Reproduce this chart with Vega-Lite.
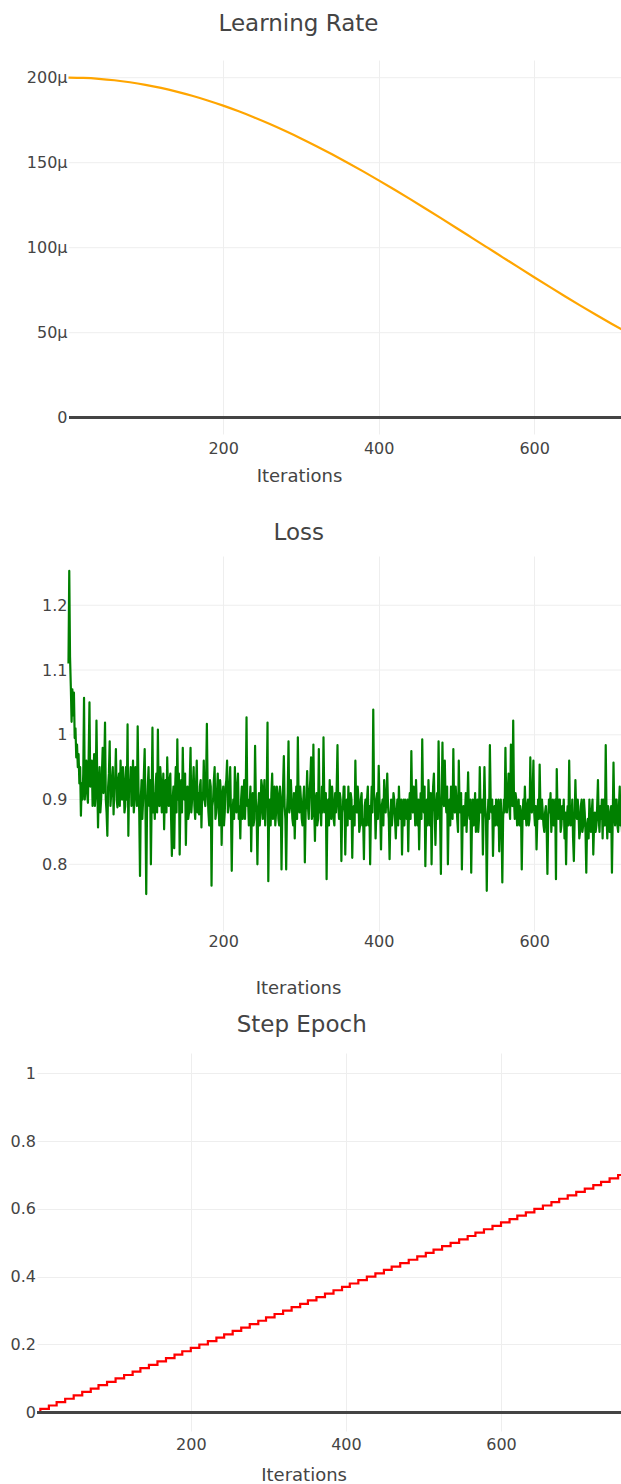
{
  "$schema": "https://vega.github.io/schema/vega-lite/v6.json",
  "background": "white",
  "autosize": {"type": "pad"},
  "padding": {"left": 10, "top": 12, "right": 0, "bottom": 0},
  "spacing": 122,
  "bounds": "flush",
  "config": {
    "view": {"stroke": null},
    "font": "DejaVu Sans",
    "axis": {
      "labelFont": "DejaVu Sans", "labelFontSize": 16, "labelColor": "#444",
      "titleFont": "DejaVu Sans", "titleFontSize": 18, "titleColor": "#444", "titleFontWeight": "normal",
      "domain": false, "ticks": false, "tickSize": 0, "gridColor": "#eeeeee", "gridWidth": 1, "labelOverlap": false
    },
    "title": {"font": "DejaVu Sans", "fontSize": 23, "fontWeight": "normal", "color": "#444", "anchor": "middle", "frame": "group", "baseline": "alphabetic"}
  },
  "datasets": {
    "lr": [
      {"iter": 1, "lr": 0.0002}, {"iter": 20, "lr": 0.00019983}, {"iter": 40, "lr": 0.00019932}, {"iter": 60, "lr": 0.00019848},
      {"iter": 80, "lr": 0.0001973}, {"iter": 100, "lr": 0.0001958}, {"iter": 120, "lr": 0.00019397}, {"iter": 140, "lr": 0.00019182},
      {"iter": 160, "lr": 0.00018936}, {"iter": 180, "lr": 0.0001866}, {"iter": 200, "lr": 0.00018355}, {"iter": 220, "lr": 0.00018021},
      {"iter": 240, "lr": 0.0001766}, {"iter": 260, "lr": 0.00017274}, {"iter": 280, "lr": 0.00016862}, {"iter": 300, "lr": 0.00016428},
      {"iter": 320, "lr": 0.00015972}, {"iter": 340, "lr": 0.00015495}, {"iter": 360, "lr": 0.00015}, {"iter": 380, "lr": 0.00014488},
      {"iter": 400, "lr": 0.00013961}, {"iter": 420, "lr": 0.0001342}, {"iter": 440, "lr": 0.00012868}, {"iter": 460, "lr": 0.00012306},
      {"iter": 480, "lr": 0.00011736}, {"iter": 500, "lr": 0.00011161}, {"iter": 520, "lr": 0.00010581}, {"iter": 540, "lr": 0.0001},
      {"iter": 560, "lr": 0.00009419}, {"iter": 580, "lr": 0.00008839}, {"iter": 600, "lr": 0.00008264}, {"iter": 620, "lr": 0.00007694},
      {"iter": 640, "lr": 0.00007132}, {"iter": 660, "lr": 0.0000658}, {"iter": 680, "lr": 0.00006039}, {"iter": 700, "lr": 0.00005512},
      {"iter": 720, "lr": 0.00005}
    ],
    "loss": [
      {"iter":1,"loss":1.11},{"iter":2,"loss":1.253},{"iter":3,"loss":1.12},{"iter":4,"loss":1.075},{"iter":5,"loss":1.02},
      {"iter":6,"loss":1.07},{"iter":7,"loss":1.03},{"iter":8,"loss":1.065},{"iter":9,"loss":0.995},{"iter":10,"loss":1.01},
      {"iter":11,"loss":0.965},{"iter":12,"loss":0.985},{"iter":13,"loss":0.95},{"iter":14,"loss":0.97},{"iter":15,"loss":0.925},
      {"iter":16,"loss":0.95},{"iter":17,"loss":0.875},{"iter":18,"loss":0.925},{"iter":19,"loss":0.9},{"iter":20,"loss":0.94},
      {"iter":21,"loss":1.057},{"iter":22,"loss":0.9},{"iter":23,"loss":0.94},{"iter":24,"loss":0.96},{"iter":25,"loss":0.91},
      {"iter":26,"loss":0.895},{"iter":27,"loss":0.97},{"iter":28,"loss":1.05},{"iter":29,"loss":0.92},{"iter":30,"loss":0.93},
      {"iter":31,"loss":0.96},{"iter":32,"loss":0.89},{"iter":33,"loss":0.93},{"iter":34,"loss":0.97},{"iter":35,"loss":0.89},
      {"iter":36,"loss":0.91},{"iter":37,"loss":1.022},{"iter":38,"loss":0.93},{"iter":39,"loss":0.857},{"iter":40,"loss":0.92},
      {"iter":41,"loss":0.95},{"iter":42,"loss":0.88},{"iter":43,"loss":0.9},{"iter":44,"loss":0.94},{"iter":45,"loss":0.98},
      {"iter":46,"loss":0.91},{"iter":47,"loss":0.95},{"iter":48,"loss":1.019},{"iter":49,"loss":0.9},{"iter":50,"loss":0.88},
      {"iter":51,"loss":0.844},{"iter":52,"loss":0.92},{"iter":53,"loss":0.94},{"iter":54,"loss":0.99},{"iter":55,"loss":0.89},
      {"iter":56,"loss":0.91},{"iter":57,"loss":0.93},{"iter":58,"loss":0.95},{"iter":59,"loss":0.877},{"iter":60,"loss":0.92},
      {"iter":61,"loss":0.93},{"iter":62,"loss":0.978},{"iter":63,"loss":0.9},{"iter":64,"loss":0.888},{"iter":65,"loss":0.93},
      {"iter":66,"loss":0.94},{"iter":67,"loss":0.89},{"iter":68,"loss":0.96},{"iter":69,"loss":0.91},{"iter":70,"loss":0.9},
      {"iter":71,"loss":0.95},{"iter":72,"loss":0.93},{"iter":73,"loss":0.88},{"iter":74,"loss":0.89},{"iter":75,"loss":0.95},
      {"iter":76,"loss":0.9},{"iter":77,"loss":1.016},{"iter":78,"loss":0.844},{"iter":79,"loss":0.93},{"iter":80,"loss":0.92},
      {"iter":81,"loss":0.95},{"iter":82,"loss":0.89},{"iter":83,"loss":0.91},{"iter":84,"loss":0.96},{"iter":85,"loss":0.88},
      {"iter":86,"loss":0.9},{"iter":87,"loss":0.95},{"iter":88,"loss":0.94},{"iter":89,"loss":0.89},{"iter":90,"loss":1.013},
      {"iter":91,"loss":0.92},{"iter":92,"loss":0.88},{"iter":93,"loss":0.782},{"iter":94,"loss":0.9},{"iter":95,"loss":0.93},
      {"iter":96,"loss":0.87},{"iter":97,"loss":0.9},{"iter":98,"loss":0.94},{"iter":99,"loss":0.978},{"iter":100,"loss":0.89},
      {"iter":101,"loss":0.754},{"iter":102,"loss":0.88},{"iter":103,"loss":0.92},{"iter":104,"loss":0.95},{"iter":105,"loss":0.89},
      {"iter":106,"loss":0.93},{"iter":107,"loss":0.8},{"iter":108,"loss":0.9},{"iter":109,"loss":1.011},{"iter":110,"loss":0.88},
      {"iter":111,"loss":0.91},{"iter":112,"loss":0.87},{"iter":113,"loss":0.92},{"iter":114,"loss":0.94},{"iter":115,"loss":0.88},
      {"iter":116,"loss":1.008},{"iter":117,"loss":0.9},{"iter":118,"loss":0.89},{"iter":119,"loss":0.95},{"iter":120,"loss":0.93},
      {"iter":121,"loss":0.88},{"iter":122,"loss":0.9},{"iter":123,"loss":0.94},{"iter":124,"loss":0.854},{"iter":125,"loss":0.91},
      {"iter":126,"loss":0.93},{"iter":127,"loss":0.88},{"iter":128,"loss":0.965},{"iter":129,"loss":0.91},{"iter":130,"loss":0.89},
      {"iter":131,"loss":0.93},{"iter":132,"loss":0.94},{"iter":133,"loss":0.87},{"iter":134,"loss":0.813},{"iter":135,"loss":0.9},
      {"iter":136,"loss":0.92},{"iter":137,"loss":0.825},{"iter":138,"loss":0.91},{"iter":139,"loss":0.95},{"iter":140,"loss":0.88},
      {"iter":141,"loss":0.993},{"iter":142,"loss":0.9},{"iter":143,"loss":0.94},{"iter":144,"loss":0.815},{"iter":145,"loss":0.9},
      {"iter":146,"loss":0.93},{"iter":147,"loss":0.88},{"iter":148,"loss":0.98},{"iter":149,"loss":0.91},{"iter":150,"loss":0.9},
      {"iter":151,"loss":0.94},{"iter":152,"loss":0.83},{"iter":153,"loss":0.9},{"iter":154,"loss":0.92},{"iter":155,"loss":0.87},
      {"iter":156,"loss":0.88},{"iter":157,"loss":0.93},{"iter":158,"loss":0.98},{"iter":159,"loss":0.88},{"iter":160,"loss":0.9},
      {"iter":161,"loss":0.92},{"iter":162,"loss":0.95},{"iter":163,"loss":0.89},{"iter":164,"loss":0.87},{"iter":165,"loss":0.92},
      {"iter":166,"loss":0.96},{"iter":167,"loss":0.88},{"iter":168,"loss":0.91},{"iter":169,"loss":0.877},{"iter":170,"loss":0.92},
      {"iter":171,"loss":0.93},{"iter":172,"loss":0.857},{"iter":173,"loss":0.91},{"iter":174,"loss":0.9},{"iter":175,"loss":0.96},
      {"iter":176,"loss":0.9},{"iter":177,"loss":0.89},{"iter":178,"loss":0.93},{"iter":179,"loss":1.017},{"iter":180,"loss":0.91},
      {"iter":181,"loss":0.88},{"iter":182,"loss":0.86},{"iter":183,"loss":0.93},{"iter":184,"loss":0.92},{"iter":185,"loss":0.767},
      {"iter":186,"loss":0.89},{"iter":187,"loss":0.9},{"iter":188,"loss":0.93},{"iter":189,"loss":0.95},{"iter":190,"loss":0.87},
      {"iter":191,"loss":0.88},{"iter":192,"loss":0.91},{"iter":193,"loss":0.94},{"iter":194,"loss":0.89},{"iter":195,"loss":0.86},
      {"iter":196,"loss":0.93},{"iter":197,"loss":0.91},{"iter":198,"loss":0.83},{"iter":199,"loss":0.9},{"iter":200,"loss":0.92},
      {"iter":201,"loss":0.86},{"iter":202,"loss":0.88},{"iter":203,"loss":0.92},{"iter":204,"loss":0.93},{"iter":205,"loss":0.96},
      {"iter":206,"loss":0.88},{"iter":207,"loss":0.89},{"iter":208,"loss":0.92},{"iter":209,"loss":0.95},{"iter":210,"loss":0.88},
      {"iter":211,"loss":0.79},{"iter":212,"loss":0.88},{"iter":213,"loss":0.9},{"iter":214,"loss":0.87},{"iter":215,"loss":0.95},
      {"iter":216,"loss":0.9},{"iter":217,"loss":0.88},{"iter":218,"loss":0.92},{"iter":219,"loss":0.94},{"iter":220,"loss":0.87},
      {"iter":221,"loss":0.89},{"iter":222,"loss":0.84},{"iter":223,"loss":0.9},{"iter":224,"loss":0.92},{"iter":225,"loss":0.87},
      {"iter":226,"loss":0.9},{"iter":227,"loss":0.93},{"iter":228,"loss":0.87},{"iter":229,"loss":0.91},{"iter":230,"loss":1.027},
      {"iter":231,"loss":0.89},{"iter":232,"loss":0.9},{"iter":233,"loss":0.86},{"iter":234,"loss":0.89},{"iter":235,"loss":0.92},
      {"iter":236,"loss":0.82},{"iter":237,"loss":0.89},{"iter":238,"loss":0.91},{"iter":239,"loss":0.86},{"iter":240,"loss":0.87},
      {"iter":241,"loss":0.983},{"iter":242,"loss":0.9},{"iter":243,"loss":0.88},{"iter":244,"loss":0.8},{"iter":245,"loss":0.88},
      {"iter":246,"loss":0.91},{"iter":247,"loss":0.86},{"iter":248,"loss":0.88},{"iter":249,"loss":0.93},{"iter":250,"loss":0.92},
      {"iter":251,"loss":0.87},{"iter":252,"loss":0.9},{"iter":253,"loss":0.93},{"iter":254,"loss":0.86},{"iter":255,"loss":0.9},
      {"iter":256,"loss":0.91},{"iter":257,"loss":1.019},{"iter":258,"loss":0.774},{"iter":259,"loss":0.88},{"iter":260,"loss":0.9},
      {"iter":261,"loss":0.86},{"iter":262,"loss":0.91},{"iter":263,"loss":0.94},{"iter":264,"loss":0.87},{"iter":265,"loss":0.9},
      {"iter":266,"loss":0.92},{"iter":267,"loss":0.86},{"iter":268,"loss":0.88},{"iter":269,"loss":0.92},{"iter":270,"loss":0.91},
      {"iter":271,"loss":0.87},{"iter":272,"loss":0.86},{"iter":273,"loss":0.92},{"iter":274,"loss":0.9},{"iter":275,"loss":0.792},
      {"iter":276,"loss":0.88},{"iter":277,"loss":0.92},{"iter":278,"loss":0.967},{"iter":279,"loss":0.89},{"iter":280,"loss":0.87},
      {"iter":281,"loss":0.792},{"iter":282,"loss":0.88},{"iter":283,"loss":0.91},{"iter":284,"loss":0.99},{"iter":285,"loss":0.88},
      {"iter":286,"loss":0.89},{"iter":287,"loss":0.93},{"iter":288,"loss":0.9},{"iter":289,"loss":0.87},{"iter":290,"loss":0.86},
      {"iter":291,"loss":0.91},{"iter":292,"loss":0.84},{"iter":293,"loss":0.89},{"iter":294,"loss":0.92},{"iter":295,"loss":0.87},
      {"iter":296,"loss":0.996},{"iter":297,"loss":0.9},{"iter":298,"loss":0.88},{"iter":299,"loss":0.92},{"iter":300,"loss":0.9},
      {"iter":301,"loss":0.87},{"iter":302,"loss":0.86},{"iter":303,"loss":0.9},{"iter":304,"loss":0.92},{"iter":305,"loss":0.803},
      {"iter":306,"loss":0.88},{"iter":307,"loss":0.9},{"iter":308,"loss":0.944},{"iter":309,"loss":0.89},{"iter":310,"loss":0.87},
      {"iter":311,"loss":0.91},{"iter":312,"loss":0.93},{"iter":313,"loss":0.965},{"iter":314,"loss":0.87},{"iter":315,"loss":0.88},
      {"iter":316,"loss":0.985},{"iter":317,"loss":0.89},{"iter":318,"loss":0.836},{"iter":319,"loss":0.9},{"iter":320,"loss":0.91},
      {"iter":321,"loss":0.86},{"iter":322,"loss":0.87},{"iter":323,"loss":0.978},{"iter":324,"loss":0.88},{"iter":325,"loss":0.89},
      {"iter":326,"loss":0.86},{"iter":327,"loss":0.92},{"iter":328,"loss":0.88},{"iter":329,"loss":0.996},{"iter":330,"loss":0.9},
      {"iter":331,"loss":0.88},{"iter":332,"loss":0.91},{"iter":333,"loss":0.777},{"iter":334,"loss":0.88},{"iter":335,"loss":0.9},
      {"iter":336,"loss":0.86},{"iter":337,"loss":0.93},{"iter":338,"loss":0.89},{"iter":339,"loss":0.87},{"iter":340,"loss":0.92},
      {"iter":341,"loss":0.9},{"iter":342,"loss":0.87},{"iter":343,"loss":0.86},{"iter":344,"loss":0.91},{"iter":345,"loss":0.88},
      {"iter":346,"loss":0.92},{"iter":347,"loss":0.984},{"iter":348,"loss":0.89},{"iter":349,"loss":0.87},{"iter":350,"loss":0.91},
      {"iter":351,"loss":0.9},{"iter":352,"loss":0.805},{"iter":353,"loss":0.88},{"iter":354,"loss":0.89},{"iter":355,"loss":0.92},
      {"iter":356,"loss":0.92},{"iter":357,"loss":0.815},{"iter":358,"loss":0.88},{"iter":359,"loss":0.9},{"iter":360,"loss":0.86},
      {"iter":361,"loss":0.92},{"iter":362,"loss":0.88},{"iter":363,"loss":0.87},{"iter":364,"loss":0.91},{"iter":365,"loss":0.9},
      {"iter":366,"loss":0.81},{"iter":367,"loss":0.88},{"iter":368,"loss":0.89},{"iter":369,"loss":0.86},{"iter":370,"loss":0.96},
      {"iter":371,"loss":0.89},{"iter":372,"loss":0.88},{"iter":373,"loss":0.92},{"iter":374,"loss":0.9},{"iter":375,"loss":0.85},
      {"iter":376,"loss":0.86},{"iter":377,"loss":0.9},{"iter":378,"loss":0.91},{"iter":379,"loss":0.86},{"iter":380,"loss":0.87},
      {"iter":381,"loss":0.808},{"iter":382,"loss":0.89},{"iter":383,"loss":0.9},{"iter":384,"loss":0.86},{"iter":385,"loss":0.9},
      {"iter":386,"loss":0.92},{"iter":387,"loss":0.86},{"iter":388,"loss":0.89},{"iter":389,"loss":0.8},{"iter":390,"loss":0.88},
      {"iter":391,"loss":0.92},{"iter":392,"loss":0.88},{"iter":393,"loss":1.039},{"iter":394,"loss":0.91},{"iter":395,"loss":0.9},
      {"iter":396,"loss":0.84},{"iter":397,"loss":0.88},{"iter":398,"loss":0.91},{"iter":399,"loss":0.87},{"iter":400,"loss":0.952},
      {"iter":401,"loss":0.9},{"iter":402,"loss":0.88},{"iter":403,"loss":0.823},{"iter":404,"loss":0.89},{"iter":405,"loss":0.9},
      {"iter":406,"loss":0.86},{"iter":407,"loss":0.93},{"iter":408,"loss":0.89},{"iter":409,"loss":0.88},{"iter":410,"loss":0.91},
      {"iter":411,"loss":0.94},{"iter":412,"loss":0.89},{"iter":413,"loss":0.87},{"iter":414,"loss":0.808},{"iter":415,"loss":0.87},
      {"iter":416,"loss":0.9},{"iter":417,"loss":0.86},{"iter":418,"loss":0.88},{"iter":419,"loss":0.91},{"iter":420,"loss":0.9},
      {"iter":421,"loss":0.87},{"iter":422,"loss":0.84},{"iter":423,"loss":0.88},{"iter":424,"loss":0.9},{"iter":425,"loss":0.86},
      {"iter":426,"loss":0.92},{"iter":427,"loss":0.88},{"iter":428,"loss":0.87},{"iter":429,"loss":0.9},{"iter":430,"loss":0.815},
      {"iter":431,"loss":0.88},{"iter":432,"loss":0.9},{"iter":433,"loss":0.86},{"iter":434,"loss":0.9},{"iter":435,"loss":0.88},
      {"iter":436,"loss":0.87},{"iter":437,"loss":0.9},{"iter":438,"loss":0.82},{"iter":439,"loss":0.89},{"iter":440,"loss":0.91},
      {"iter":441,"loss":0.87},{"iter":442,"loss":0.975},{"iter":443,"loss":0.89},{"iter":444,"loss":0.88},{"iter":445,"loss":0.92},
      {"iter":446,"loss":0.9},{"iter":447,"loss":0.86},{"iter":448,"loss":0.93},{"iter":449,"loss":0.89},{"iter":450,"loss":0.86},
      {"iter":451,"loss":0.9},{"iter":452,"loss":0.823},{"iter":453,"loss":0.88},{"iter":454,"loss":0.91},{"iter":455,"loss":0.87},
      {"iter":456,"loss":0.993},{"iter":457,"loss":0.9},{"iter":458,"loss":0.88},{"iter":459,"loss":0.92},{"iter":460,"loss":0.797},
      {"iter":461,"loss":0.87},{"iter":462,"loss":0.9},{"iter":463,"loss":0.86},{"iter":464,"loss":0.93},{"iter":465,"loss":0.89},
      {"iter":466,"loss":0.86},{"iter":467,"loss":0.91},{"iter":468,"loss":0.8},{"iter":469,"loss":0.88},{"iter":470,"loss":0.92},
      {"iter":471,"loss":0.94},{"iter":472,"loss":0.88},{"iter":473,"loss":0.83},{"iter":474,"loss":0.89},{"iter":475,"loss":0.91},
      {"iter":476,"loss":0.87},{"iter":477,"loss":0.99},{"iter":478,"loss":0.91},{"iter":479,"loss":0.87},{"iter":480,"loss":0.785},
      {"iter":481,"loss":0.9},{"iter":482,"loss":0.988},{"iter":483,"loss":0.9},{"iter":484,"loss":0.89},{"iter":485,"loss":0.96},
      {"iter":486,"loss":0.9},{"iter":487,"loss":0.88},{"iter":488,"loss":0.92},{"iter":489,"loss":0.8},{"iter":490,"loss":0.88},
      {"iter":491,"loss":0.9},{"iter":492,"loss":0.86},{"iter":493,"loss":0.92},{"iter":494,"loss":0.89},{"iter":495,"loss":0.87},
      {"iter":496,"loss":0.978},{"iter":497,"loss":0.89},{"iter":498,"loss":0.88},{"iter":499,"loss":0.92},{"iter":500,"loss":0.9},
      {"iter":501,"loss":0.87},{"iter":502,"loss":0.85},{"iter":503,"loss":0.96},{"iter":504,"loss":0.89},{"iter":505,"loss":0.88},
      {"iter":506,"loss":0.91},{"iter":507,"loss":0.792},{"iter":508,"loss":0.87},{"iter":509,"loss":0.89},{"iter":510,"loss":0.86},
      {"iter":511,"loss":0.88},{"iter":512,"loss":0.91},{"iter":513,"loss":0.85},{"iter":514,"loss":0.89},{"iter":515,"loss":0.942},
      {"iter":516,"loss":0.88},{"iter":517,"loss":0.87},{"iter":518,"loss":0.9},{"iter":519,"loss":0.787},{"iter":520,"loss":0.87},
      {"iter":521,"loss":0.9},{"iter":522,"loss":0.86},{"iter":523,"loss":0.88},{"iter":524,"loss":0.91},{"iter":525,"loss":0.85},
      {"iter":526,"loss":0.88},{"iter":527,"loss":0.9},{"iter":528,"loss":0.85},{"iter":529,"loss":0.87},{"iter":530,"loss":0.95},
      {"iter":531,"loss":0.88},{"iter":532,"loss":0.88},{"iter":533,"loss":0.9},{"iter":534,"loss":0.815},{"iter":535,"loss":0.88},
      {"iter":536,"loss":0.95},{"iter":537,"loss":0.89},{"iter":538,"loss":0.87},{"iter":539,"loss":0.759},{"iter":540,"loss":0.86},
      {"iter":541,"loss":0.9},{"iter":542,"loss":0.87},{"iter":543,"loss":0.984},{"iter":544,"loss":0.9},{"iter":545,"loss":0.88},
      {"iter":546,"loss":0.9},{"iter":547,"loss":0.813},{"iter":548,"loss":0.87},{"iter":549,"loss":0.89},{"iter":550,"loss":0.86},
      {"iter":551,"loss":0.9},{"iter":552,"loss":0.88},{"iter":553,"loss":0.86},{"iter":554,"loss":0.9},{"iter":555,"loss":0.82},
      {"iter":556,"loss":0.87},{"iter":557,"loss":0.9},{"iter":558,"loss":0.86},{"iter":559,"loss":0.772},{"iter":560,"loss":0.87},
      {"iter":561,"loss":0.9},{"iter":562,"loss":0.88},{"iter":563,"loss":0.98},{"iter":564,"loss":0.9},{"iter":565,"loss":0.88},
      {"iter":566,"loss":0.91},{"iter":567,"loss":0.94},{"iter":568,"loss":0.89},{"iter":569,"loss":0.87},{"iter":570,"loss":0.985},
      {"iter":571,"loss":0.9},{"iter":572,"loss":0.89},{"iter":573,"loss":1.022},{"iter":574,"loss":0.9},{"iter":575,"loss":0.87},
      {"iter":576,"loss":0.91},{"iter":577,"loss":0.9},{"iter":578,"loss":0.86},{"iter":579,"loss":0.87},{"iter":580,"loss":0.9},
      {"iter":581,"loss":0.86},{"iter":582,"loss":0.89},{"iter":583,"loss":0.88},{"iter":584,"loss":0.792},{"iter":585,"loss":0.87},
      {"iter":586,"loss":0.9},{"iter":587,"loss":0.87},{"iter":588,"loss":0.92},{"iter":589,"loss":0.88},{"iter":590,"loss":0.86},
      {"iter":591,"loss":0.89},{"iter":592,"loss":0.9},{"iter":593,"loss":0.86},{"iter":594,"loss":0.87},{"iter":595,"loss":0.965},
      {"iter":596,"loss":0.89},{"iter":597,"loss":0.88},{"iter":598,"loss":0.91},{"iter":599,"loss":0.96},{"iter":600,"loss":0.88},
      {"iter":601,"loss":0.86},{"iter":602,"loss":0.89},{"iter":603,"loss":0.823},{"iter":604,"loss":0.87},{"iter":605,"loss":0.9},
      {"iter":606,"loss":0.87},{"iter":607,"loss":0.954},{"iter":608,"loss":0.89},{"iter":609,"loss":0.87},{"iter":610,"loss":0.9},
      {"iter":611,"loss":0.88},{"iter":612,"loss":0.86},{"iter":613,"loss":0.85},{"iter":614,"loss":0.88},{"iter":615,"loss":0.89},
      {"iter":616,"loss":0.86},{"iter":617,"loss":0.785},{"iter":618,"loss":0.87},{"iter":619,"loss":0.9},{"iter":620,"loss":0.88},
      {"iter":621,"loss":0.91},{"iter":622,"loss":0.85},{"iter":623,"loss":0.88},{"iter":624,"loss":0.9},{"iter":625,"loss":0.86},
      {"iter":626,"loss":0.87},{"iter":627,"loss":0.9},{"iter":628,"loss":0.777},{"iter":629,"loss":0.947},{"iter":630,"loss":0.88},
      {"iter":631,"loss":0.87},{"iter":632,"loss":0.9},{"iter":633,"loss":0.9},{"iter":634,"loss":0.85},{"iter":635,"loss":0.86},
      {"iter":636,"loss":0.89},{"iter":637,"loss":0.87},{"iter":638,"loss":0.9},{"iter":639,"loss":0.84},{"iter":640,"loss":0.88},
      {"iter":641,"loss":0.8},{"iter":642,"loss":0.87},{"iter":643,"loss":0.89},{"iter":644,"loss":0.86},{"iter":645,"loss":0.96},
      {"iter":646,"loss":0.88},{"iter":647,"loss":0.86},{"iter":648,"loss":0.87},{"iter":649,"loss":0.9},{"iter":650,"loss":0.84},
      {"iter":651,"loss":0.805},{"iter":652,"loss":0.87},{"iter":653,"loss":0.93},{"iter":654,"loss":0.88},{"iter":655,"loss":0.87},
      {"iter":656,"loss":0.9},{"iter":657,"loss":0.88},{"iter":658,"loss":0.84},{"iter":659,"loss":0.85},{"iter":660,"loss":0.89},
      {"iter":661,"loss":0.9},{"iter":662,"loss":0.85},{"iter":663,"loss":0.86},{"iter":664,"loss":0.9},{"iter":665,"loss":0.88},
      {"iter":666,"loss":0.85},{"iter":667,"loss":0.787},{"iter":668,"loss":0.86},{"iter":669,"loss":0.87},{"iter":670,"loss":0.84},
      {"iter":671,"loss":0.9},{"iter":672,"loss":0.87},{"iter":673,"loss":0.85},{"iter":674,"loss":0.88},{"iter":675,"loss":0.9},
      {"iter":676,"loss":0.815},{"iter":677,"loss":0.86},{"iter":678,"loss":0.88},{"iter":679,"loss":0.85},{"iter":680,"loss":0.86},
      {"iter":681,"loss":0.89},{"iter":682,"loss":0.93},{"iter":683,"loss":0.87},{"iter":684,"loss":0.85},{"iter":685,"loss":0.89},
      {"iter":686,"loss":0.87},{"iter":687,"loss":0.9},{"iter":688,"loss":0.84},{"iter":689,"loss":0.9},{"iter":690,"loss":0.86},
      {"iter":691,"loss":0.86},{"iter":692,"loss":0.984},{"iter":693,"loss":0.88},{"iter":694,"loss":0.84},{"iter":695,"loss":0.89},
      {"iter":696,"loss":0.88},{"iter":697,"loss":0.85},{"iter":698,"loss":0.86},{"iter":699,"loss":0.89},{"iter":700,"loss":0.787},
      {"iter":701,"loss":0.87},{"iter":702,"loss":0.957},{"iter":703,"loss":0.88},{"iter":704,"loss":0.86},{"iter":705,"loss":0.9},
      {"iter":706,"loss":0.9},{"iter":707,"loss":0.86},{"iter":708,"loss":0.85},{"iter":709,"loss":0.89},{"iter":710,"loss":0.92},
      {"iter":711,"loss":0.86},{"iter":712,"loss":0.88},{"iter":713,"loss":0.85},{"iter":714,"loss":0.86}
    ],
    "epoch": [
      {"iter":1,"epoch":0},{"iter":6,"epoch":0.01},{"iter":17,"epoch":0.02},{"iter":27,"epoch":0.03},{"iter":38,"epoch":0.04},
      {"iter":49,"epoch":0.05},{"iter":60,"epoch":0.06},{"iter":71,"epoch":0.07},{"iter":81,"epoch":0.08},{"iter":92,"epoch":0.09},
      {"iter":103,"epoch":0.1},{"iter":114,"epoch":0.11},{"iter":125,"epoch":0.12},{"iter":135,"epoch":0.13},{"iter":146,"epoch":0.14},
      {"iter":157,"epoch":0.15},{"iter":168,"epoch":0.16},{"iter":179,"epoch":0.17},{"iter":189,"epoch":0.18},{"iter":200,"epoch":0.19},
      {"iter":211,"epoch":0.2},{"iter":222,"epoch":0.21},{"iter":233,"epoch":0.22},{"iter":243,"epoch":0.23},{"iter":254,"epoch":0.24},
      {"iter":265,"epoch":0.25},{"iter":276,"epoch":0.26},{"iter":287,"epoch":0.27},{"iter":297,"epoch":0.28},{"iter":308,"epoch":0.29},
      {"iter":319,"epoch":0.3},{"iter":330,"epoch":0.31},{"iter":341,"epoch":0.32},{"iter":351,"epoch":0.33},{"iter":362,"epoch":0.34},
      {"iter":373,"epoch":0.35},{"iter":384,"epoch":0.36},{"iter":395,"epoch":0.37},{"iter":405,"epoch":0.38},{"iter":416,"epoch":0.39},
      {"iter":427,"epoch":0.4},{"iter":438,"epoch":0.41},{"iter":449,"epoch":0.42},{"iter":459,"epoch":0.43},{"iter":470,"epoch":0.44},
      {"iter":481,"epoch":0.45},{"iter":492,"epoch":0.46},{"iter":503,"epoch":0.47},{"iter":513,"epoch":0.48},{"iter":524,"epoch":0.49},
      {"iter":535,"epoch":0.5},{"iter":546,"epoch":0.51},{"iter":557,"epoch":0.52},{"iter":567,"epoch":0.53},{"iter":578,"epoch":0.54},
      {"iter":589,"epoch":0.55},{"iter":600,"epoch":0.56},{"iter":611,"epoch":0.57},{"iter":621,"epoch":0.58},{"iter":632,"epoch":0.59},
      {"iter":643,"epoch":0.6},{"iter":654,"epoch":0.61},{"iter":665,"epoch":0.62},{"iter":675,"epoch":0.63},{"iter":686,"epoch":0.64},
      {"iter":697,"epoch":0.65},{"iter":708,"epoch":0.66},{"iter":719,"epoch":0.67},{"iter":729,"epoch":0.68},{"iter":740,"epoch":0.69},
      {"iter":751,"epoch":0.7},{"iter":762,"epoch":0.71}
    ],
    "lrgrid": [{"g": 0.00005}, {"g": 0.0001}, {"g": 0.00015}, {"g": 0.0002}],
    "lossgrid": [{"g": 0.8}, {"g": 0.9}, {"g": 1.0}, {"g": 1.1}, {"g": 1.2}]
  },
  "vconcat": [
    {
      "width": 584, "height": 374,
      "title": {"text": "Learning Rate", "dx": -30.5, "offset": 24.5},
      "layer": [
        {
          "data": {"name": "lrgrid"},
          "mark": {"type": "rule", "color": "#eeeeee", "strokeWidth": 1, "clip": true},
          "encoding": {
            "y": {"field": "g", "type": "quantitative", "scale": {"domain": [-0.00000959, 0.0002104], "nice": false, "zero": false}},
            "x": {"datum": 1.7, "type": "quantitative", "scale": {"domain": [-39.49, 711.64], "nice": false, "zero": false}},
            "x2": {"datum": 711.64}
          }
        },
        {
          "data": {"name": "lr"},
          "mark": {"type": "rule", "color": "#444444", "strokeWidth": 2, "clip": true},
          "encoding": {
            "y": {"datum": 0, "type": "quantitative"},
            "x": {"datum": 1.7, "type": "quantitative"},
            "x2": {"datum": 711.64}
          }
        },
        {
          "data": {"name": "lr"},
          "mark": {"type": "line", "color": "#FFA500", "strokeWidth": 2.2, "interpolate": "monotone", "clip": true},
          "encoding": {
            "x": {"field": "iter", "type": "quantitative",
              "scale": {"domain": [-39.49, 711.64], "nice": false, "zero": false},
              "axis": {"values": [200, 400, 600], "grid": true, "labelPadding": 14, "labelBaseline": "middle",
                "title": "Iterations", "titleX": 262, "titleY": 47, "titleBaseline": "alphabetic", "titleAlign": "center"}},
            "y": {"field": "lr", "type": "quantitative",
              "scale": {"domain": [-0.00000959, 0.0002104], "nice": false, "zero": false},
              "axis": {"values": [0, 0.00005, 0.0001, 0.00015, 0.0002], "labelExpr": "datum.value === 0 ? '0' : format(datum.value, '~s')", "grid": false, "offset": -32, "labelPadding": 2, "title": null}}
          }
        }
      ]
    },
    {
      "width": 584, "height": 375,
      "title": {"text": "Loss", "dx": -30.3, "offset": 11.2},
      "layer": [
        {
          "data": {"name": "lossgrid"},
          "mark": {"type": "rule", "color": "#eeeeee", "strokeWidth": 1, "clip": true},
          "encoding": {
            "y": {"field": "g", "type": "quantitative", "scale": {"domain": [0.697, 1.2761], "nice": false, "zero": false}},
            "x": {"datum": 1.7, "type": "quantitative", "scale": {"domain": [-39.49, 711.64], "nice": false, "zero": false}},
            "x2": {"datum": 711.64}
          }
        },
        {
          "data": {"name": "loss"},
          "mark": {"type": "line", "color": "#008000", "strokeWidth": 2.2, "strokeJoin": "round", "clip": true},
          "encoding": {
            "x": {"field": "iter", "type": "quantitative",
              "scale": {"domain": [-39.49, 711.64], "nice": false, "zero": false},
              "axis": {"values": [200, 400, 600], "grid": true, "labelPadding": 10, "labelBaseline": "middle",
                "title": "Iterations", "titleX": 261, "titleY": 62.5, "titleBaseline": "alphabetic", "titleAlign": "center"}},
            "y": {"field": "loss", "type": "quantitative",
              "scale": {"domain": [0.697, 1.2761], "nice": false, "zero": false},
              "axis": {"values": [0.8, 0.9, 1, 1.1, 1.2], "format": "~g", "grid": false, "offset": -32, "labelPadding": 2, "title": null}}
          }
        }
      ]
    },
    {
      "width": 584, "height": 378,
      "title": {"text": "Step Epoch", "dx": -27.3, "offset": 15.8},
      "layer": [
        {
          "data": {"name": "epoch"},
          "mark": {"type": "line", "color": "#FF0000", "strokeWidth": 2.2, "interpolate": "step-after", "clip": true},
          "encoding": {
            "x": {"field": "iter", "type": "quantitative",
              "scale": {"domain": [1.68, 754.7], "nice": false, "zero": false},
              "axis": {"values": [200, 400, 600], "grid": true, "labelPadding": 13.5, "labelBaseline": "middle",
                "title": "Iterations", "titleX": 266.6, "titleY": 49.5, "titleBaseline": "alphabetic", "titleAlign": "center"}},
            "y": {"field": "epoch", "type": "quantitative",
              "scale": {"domain": [-0.0552, 1.0599], "nice": false, "zero": false},
              "axis": {"values": [0, 0.2, 0.4, 0.6, 0.8, 1], "format": "~g", "grid": true, "labelPadding": 1.5, "title": null}}
          }
        },
        {
          "data": {"name": "epoch"},
          "mark": {"type": "rule", "color": "#444444", "strokeWidth": 2},
          "encoding": {
            "y": {"datum": 0, "type": "quantitative"}
          }
        }
      ]
    }
  ]
}
